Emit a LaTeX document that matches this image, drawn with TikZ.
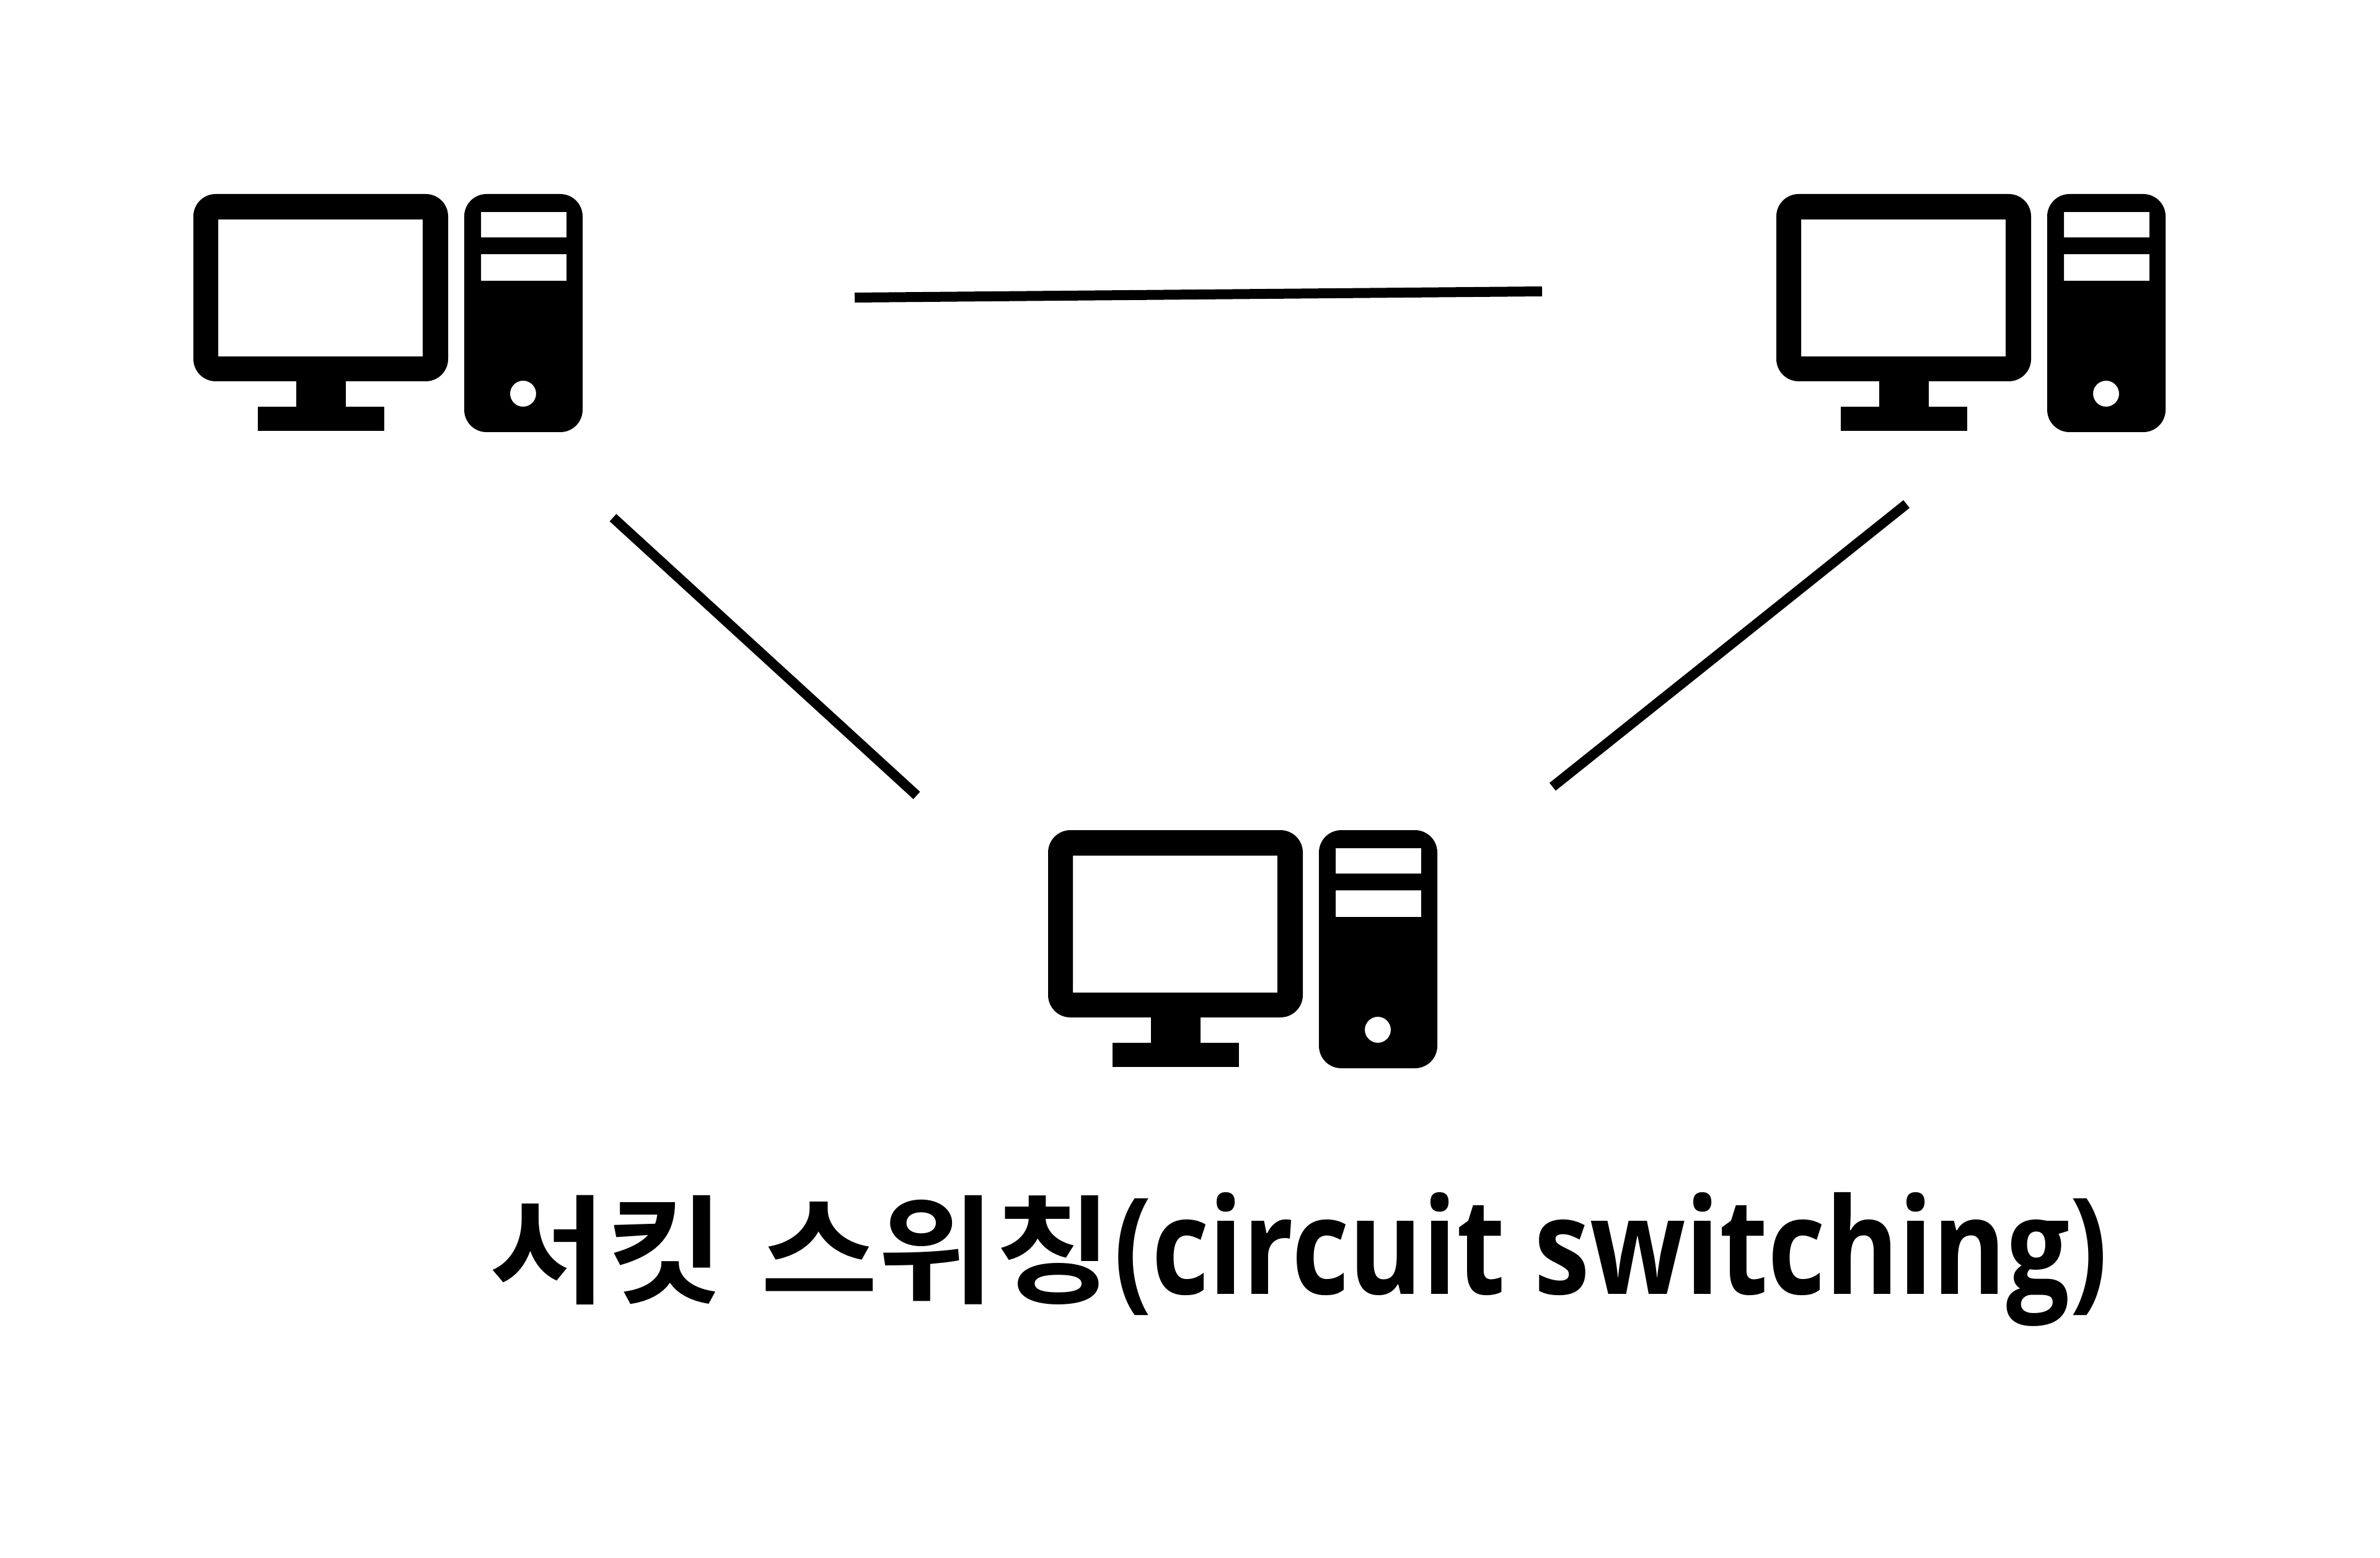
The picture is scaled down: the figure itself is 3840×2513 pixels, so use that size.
\documentclass[tikz,border=0pt]{standalone}
\usepackage{fontspec}
\setmainfont{Noto Sans CJK KR Bold}
\newfontfamily\hangulface[FakeStretch=1.083]{Noto Sans CJK KR Bold}
\newfontfamily\latinface[FakeStretch=0.835]{Open Sans}
\tikzset{
  link/.style={draw=black,line width=4pt},
  caption/.style={anchor=base west,inner sep=0pt},
  pics/computer/.style={code={
    % monitor with its screen cut out
    \fill[black,even odd rule,rounded corners=9pt]
      (0,0) rectangle (411,302)
      [sharp corners] (40,41) rectangle (370,262);
    % stand
    \fill[black] (166,300) rectangle (246,345);
    \fill[black] (104,343) rectangle (308,382);
    % tower with two drive bays and a power button
    \fill[black,even odd rule,rounded corners=9pt]
      (437,0) rectangle (628,384)
      [sharp corners] (464,29) rectangle (602,70)
      (464,97) rectangle (602,140)
      (532,322) circle[radius=21];
  }}
}
\begin{document}
\begin{tikzpicture}[x=0.25pt,y=-0.25pt]
  \useasboundingbox (0,0) rectangle (3840,2513);
  \fill[white] (0,0) rectangle (3840,2513);

  \pic at (312,313) {computer};
  \pic at (2866,313) {computer};
  \pic at (1691,1339) {computer};

  \coordinate (topA) at (1379,480);
  \coordinate (topB) at (2488,470);
  \coordinate (leftA) at (989,835);
  \coordinate (leftB) at (1479,1283);
  \coordinate (rightA) at (3076,813);
  \coordinate (rightB) at (2505,1269);
  \draw[link] (topA) -- (topB);
  \draw[link] (leftA) -- (leftB);
  \draw[link] (rightA) -- (rightB);

  \node[caption] (title) at (789,2087) {\fontsize{47.5pt}{50pt}\selectfont\hangulface 서킷\hspace{3pt} 스위칭\hspace{0.5pt}\fontsize{54pt}{56pt}\selectfont\latinface\bfseries(circuit switching)};
\end{tikzpicture}
\end{document}
